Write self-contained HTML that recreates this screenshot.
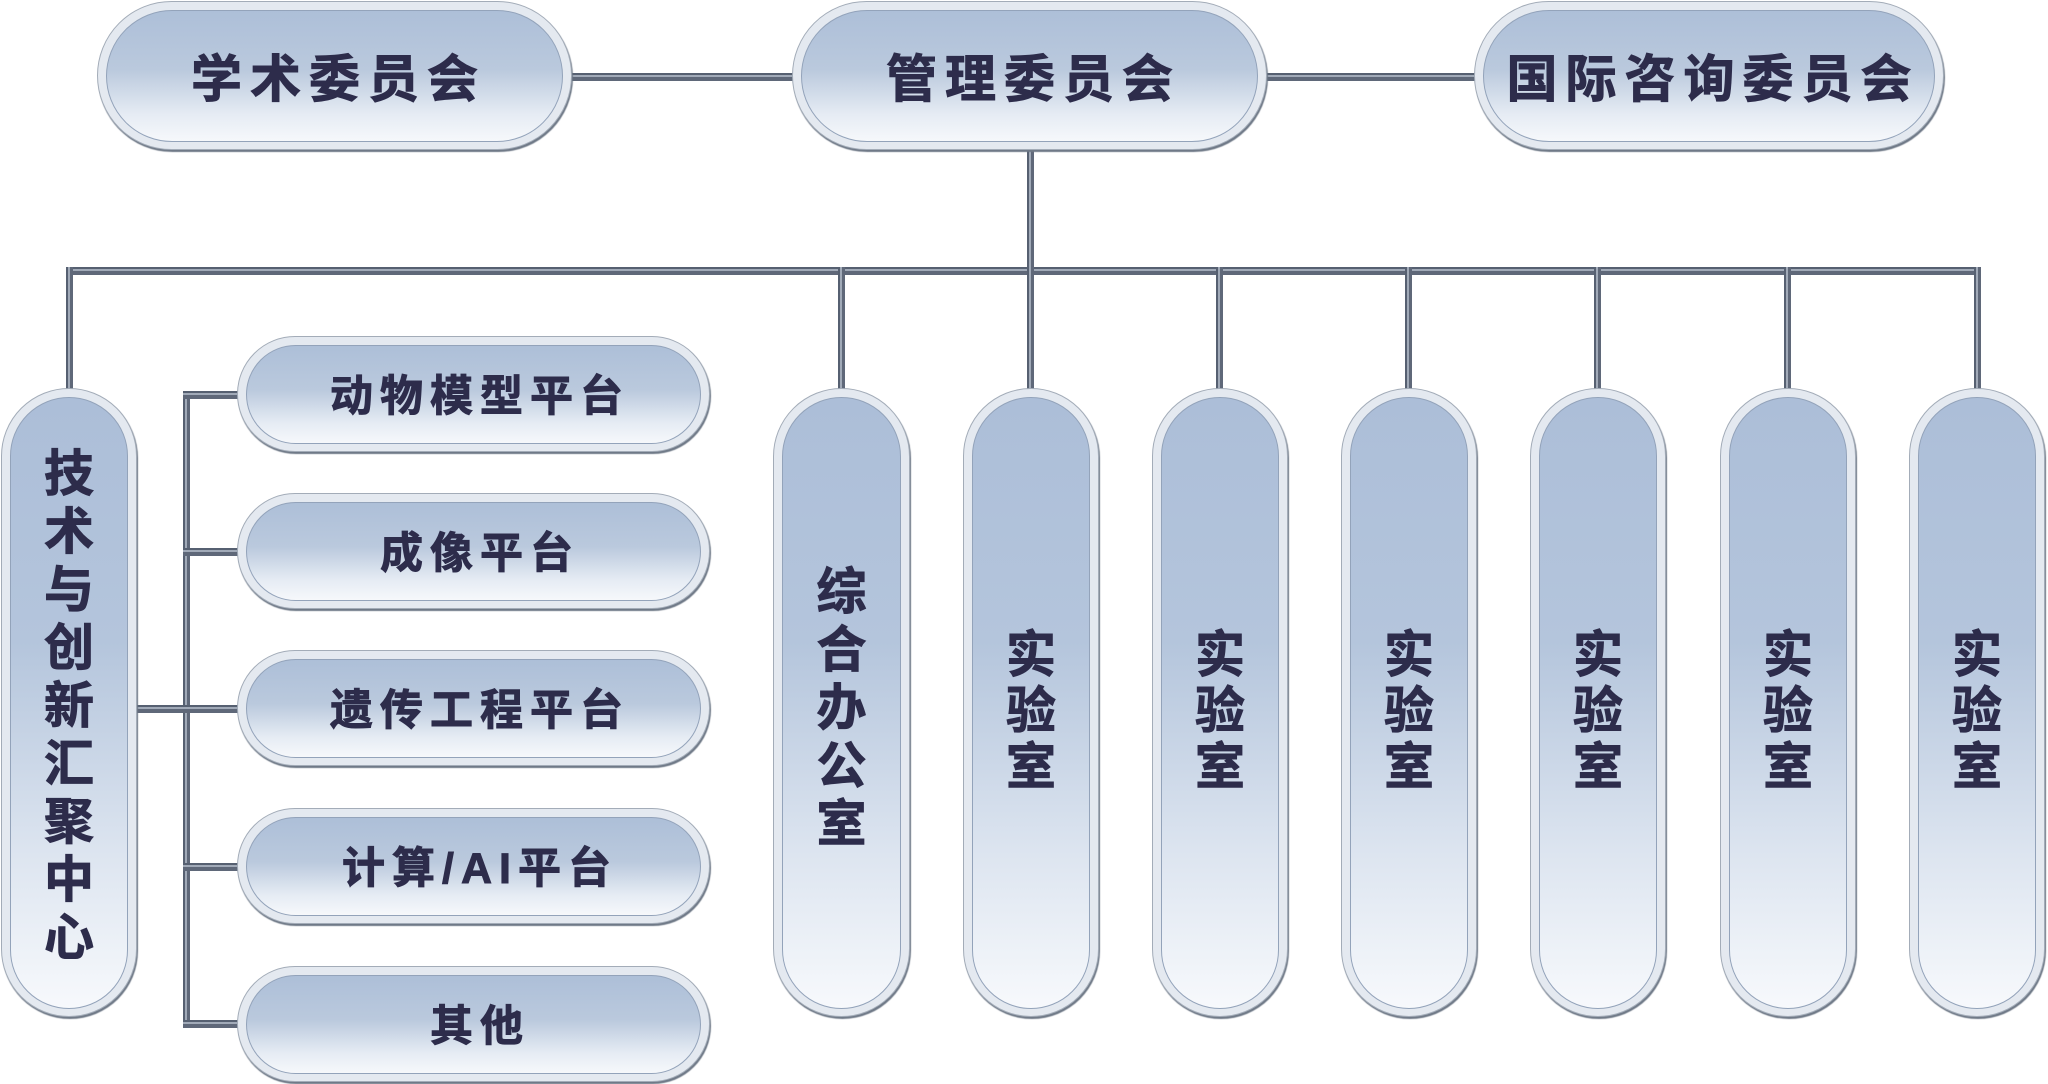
<!DOCTYPE html>
<html>
<head>
<meta charset="utf-8">
<style>
  html, body { margin:0; padding:0; }
  body { width:2048px; height:1084px; position:relative; background:#ffffff; overflow:hidden;
         font-family:"Liberation Sans","Noto Sans CJK SC","WenQuanYi Zen Hei",sans-serif; }
  .h { position:absolute; height:8px;
       background:linear-gradient(to bottom,#566071 0,#566071 2px,#a1aab8 2px,#a1aab8 4px,#5f6879 4px,#5f6879 8px); }
  .v { position:absolute; width:7px;
       background:linear-gradient(to right,#566071 0,#566071 2px,#a1aab8 2px,#a1aab8 4px,#5f6879 4px,#5f6879 7px); }
  .pill { position:absolute; box-sizing:border-box; background:#e4e9f0; border:1.5px solid #a3acb8;
          box-shadow:1px 2px 1px #6f7987; border-radius:999px; }
  .pill .in { position:absolute; left:8px; right:8px; top:8px; bottom:7px; border-radius:999px;
              border:1px solid #93a3ba; box-sizing:border-box;
              display:flex; align-items:center; justify-content:center;
              color:#2d2c4b; font-weight:700; white-space:nowrap; -webkit-text-stroke:0.9px #2d2c4b; }
  .hp .in { background:linear-gradient(to bottom,#adbfd8 0%,#bac9dd 45%,#e6ecf4 80%,#f6f8fb 100%); }
  .vp .in { background:linear-gradient(to bottom,#acbed8 0%,#b4c5dc 40%,#dde5f0 75%,#f7f9fc 100%); }
  .top .in { font-size:51px; letter-spacing:8px; padding-left:8px; padding-bottom:3px; }
  .sub .in { font-size:43px; letter-spacing:7px; padding-left:13px; padding-bottom:4px; }
  .vt { position:absolute; left:0; right:0; text-align:center; color:#2d2c4b; font-weight:700; font-size:50px;
        -webkit-text-stroke:0.9px #2d2c4b; }
</style>
</head>
<body>
<!-- connectors -->
<div class="h" style="left:560px; top:73px; width:240px;"></div>
<div class="h" style="left:1260px; top:73px; width:220px;"></div>
<div class="v" style="left:1027px; top:145px; height:130px;"></div>
<div class="h" style="left:66px; top:267px; width:1915px;"></div>

<div class="v" style="left:66px; top:267px; height:125px;"></div>
<div class="v" style="left:838px; top:267px; height:125px;"></div>
<div class="v" style="left:1027px; top:267px; height:125px;"></div>
<div class="v" style="left:1216px; top:267px; height:125px;"></div>
<div class="v" style="left:1405px; top:267px; height:125px;"></div>
<div class="v" style="left:1594px; top:267px; height:125px;"></div>
<div class="v" style="left:1784px; top:267px; height:125px;"></div>
<div class="v" style="left:1974px; top:267px; height:125px;"></div>

<!-- bracket -->
<div class="h" style="left:130px; top:705px; width:60px;"></div>
<div class="v" style="left:183px; top:391px; height:637px;"></div>
<div class="h" style="left:183px; top:391px; width:60px;"></div>
<div class="h" style="left:183px; top:548px; width:60px;"></div>
<div class="h" style="left:183px; top:705px; width:60px;"></div>
<div class="h" style="left:183px; top:863px; width:60px;"></div>
<div class="h" style="left:183px; top:1020px; width:60px;"></div>

<!-- top pills -->
<div class="pill hp top" style="left:97px; top:1px; width:475px; height:149px;"><div class="in">学术委员会</div></div>
<div class="pill hp top" style="left:792px; top:1px; width:475px; height:149px;"><div class="in">管理委员会</div></div>
<div class="pill hp top" style="left:1474px; top:1px; width:470px; height:149px;"><div class="in">国际咨询委员会</div></div>

<!-- sub pills -->
<div class="pill hp sub" style="left:237px; top:336px; width:473px; height:116px;"><div class="in">动物模型平台</div></div>
<div class="pill hp sub" style="left:237px; top:493px; width:473px; height:116px;"><div class="in">成像平台</div></div>
<div class="pill hp sub" style="left:237px; top:650px; width:473px; height:116px;"><div class="in">遗传工程平台</div></div>
<div class="pill hp sub" style="left:237px; top:808px; width:473px; height:116px;"><div class="in">计算/AI平台</div></div>
<div class="pill hp sub" style="left:237px; top:966px; width:473px; height:116px;"><div class="in">其他</div></div>

<!-- vertical pills -->
<div class="pill vp" style="left:1px; top:388px; width:136px; height:629px;"><div class="in"></div>
  <div class="vt" style="top:56px; line-height:58px;">技<br>术<br>与<br>创<br>新<br>汇<br>聚<br>中<br>心</div></div>
<div class="pill vp" style="left:773px; top:388px; width:137px; height:629px;"><div class="in"></div>
  <div class="vt" style="top:174px; line-height:58px;">综<br>合<br>办<br>公<br>室</div></div>
<div class="pill vp" style="left:963px; top:388px; width:136px; height:629px;"><div class="in"></div>
  <div class="vt" style="top:238px; line-height:56px;">实<br>验<br>室</div></div>
<div class="pill vp" style="left:1152px; top:388px; width:136px; height:629px;"><div class="in"></div>
  <div class="vt" style="top:238px; line-height:56px;">实<br>验<br>室</div></div>
<div class="pill vp" style="left:1341px; top:388px; width:136px; height:629px;"><div class="in"></div>
  <div class="vt" style="top:238px; line-height:56px;">实<br>验<br>室</div></div>
<div class="pill vp" style="left:1530px; top:388px; width:136px; height:629px;"><div class="in"></div>
  <div class="vt" style="top:238px; line-height:56px;">实<br>验<br>室</div></div>
<div class="pill vp" style="left:1720px; top:388px; width:136px; height:629px;"><div class="in"></div>
  <div class="vt" style="top:238px; line-height:56px;">实<br>验<br>室</div></div>
<div class="pill vp" style="left:1909px; top:388px; width:136px; height:629px;"><div class="in"></div>
  <div class="vt" style="top:238px; line-height:56px;">实<br>验<br>室</div></div>
</body>
</html>
